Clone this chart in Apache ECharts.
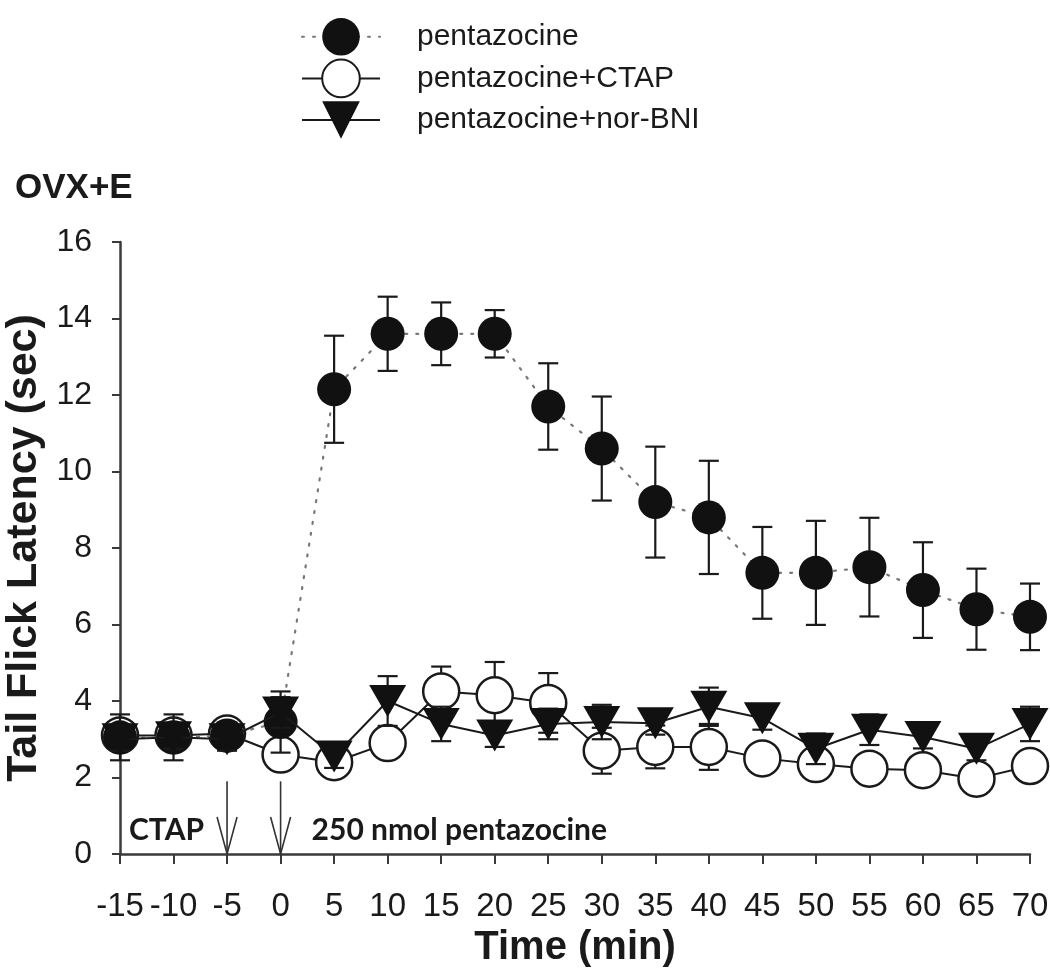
<!DOCTYPE html>
<html>
<head>
<meta charset="utf-8">
<script src="https://cdn.jsdelivr.net/npm/echarts@6/dist/echarts.min.js"></script>
<style>
html,body{margin:0;padding:0;background:#fff;}
#chart{width:1050px;height:975px;}
</style>
</head>
<body>
<div id="chart"></div>
<script>
// ---- data ----
const times = [-15, -10, -5, 0, 5, 10, 15, 20, 25, 30, 35, 40, 45, 50, 55, 60, 65, 70];
const pentMean = [3.05, 3.05, 3.1, 3.45, 12.15, 13.6, 13.6, 13.6, 11.7, 10.6, 9.2, 8.8, 7.35, 7.35, 7.5, 6.9, 6.4, 6.2];
const pentErr  = [0.6, 0.6, 0.3, 0.8, 1.4, 0.97, 0.82, 0.62, 1.13, 1.36, 1.45, 1.48, 1.2, 1.36, 1.29, 1.25, 1.06, 0.87];
const ctapMean = [3.1, 3.1, 3.15, 2.6, 2.4, 2.9, 4.25, 4.15, 3.95, 2.7, 2.8, 2.8, 2.5, 2.35, 2.23, 2.19, 1.97, 2.3];
const ctapErr  = [0.3, 0.3, 0.2, 0.3, 0.3, 0.35, 0.65, 0.87, 0.78, 0.6, 0.56, 0.6, 0.3, 0.3, 0.2, 0.3, 0.3, 0.3];
const norMean  = [3.0, 3.05, 3.0, 3.7, 2.55, 4.0, 3.4, 3.1, 3.4, 3.45, 3.42, 3.85, 3.55, 2.75, 3.25, 3.06, 2.75, 3.4];
const norErr   = [0.3, 0.3, 0.3, 0.4, 0.3, 0.65, 0.45, 0.3, 0.4, 0.45, 0.3, 0.5, 0.3, 0.4, 0.4, 0.3, 0.3, 0.45];
const seriesNames = ['pentazocine', 'pentazocine+CTAP', 'pentazocine+nor-BNI'];
const arrowTimes = [-5, 0];
const arrowTop = 1.9;
const arrowLabels = ['CTAP', '250 nmol pentazocine'];
const xTicks = {min: -15, max: 70, interval: 5};
const yTicks = {min: 0, max: 16, interval: 2};
const panelTitle = 'OVX+E';
const xTitle = 'Time (min)';
const yTitle = 'Tail Flick Latency (sec)';

// ---- helpers ----
const pairs = (ys) => times.map((t, i) => [t, ys[i]]);
const triples = (ys, es) => times.map((t, i) => [t, ys[i], es[i]]);
const INK = '#1a1a1a';
const AX = '#3a3a3a';
const SANS = '"Liberation Sans", Arial, sans-serif';
const tri = 'path://M0,0 L36,0 L18,31 Z';

function errRender(params, api) {
  const x = api.value(0), m = api.value(1), e = api.value(2);
  const hi = api.coord([x, m + e]);
  const lo = api.coord([x, m - e]);
  const cap = 10;
  const st = {stroke: INK, lineWidth: 2.2, fill: null};
  return {type: 'group', children: [
    {type: 'line', shape: {x1: hi[0], y1: hi[1], x2: lo[0], y2: lo[1]}, style: st},
    {type: 'line', shape: {x1: hi[0]-cap, y1: hi[1], x2: hi[0]+cap, y2: hi[1]}, style: st},
    {type: 'line', shape: {x1: lo[0]-cap, y1: lo[1], x2: lo[0]+cap, y2: lo[1]}, style: st}
  ]};
}

function arrowRender(params, api) {
  const x = api.value(0);
  const top = api.coord([x, arrowTop]);
  const bot = api.coord([x, 0]);
  const idx = params.dataIndex;
  const st = {stroke: '#333', lineWidth: 1.6, fill: null};
  const txt = arrowLabels[idx];
  const right = idx > 0;
  return {type: 'group', children: [
    {type: 'line', shape: {x1: top[0], y1: top[1], x2: bot[0], y2: bot[1]}, style: st},
    {type: 'polyline', shape: {points: [[bot[0]-10, bot[1]-37], [bot[0], bot[1]], [bot[0]+10, bot[1]-37]]}, style: st},
    {type: 'text', x: right ? bot[0] + 31 : bot[0] - 23, y: bot[1] - 24,
      style: {text: txt, fill: INK, font: 'bold 30px Lato, "Open Sans", sans-serif',
        align: right ? 'left' : 'right', verticalAlign: 'middle'}}
  ]};
}

const chart = echarts.init(document.getElementById('chart'), null, {renderer: 'canvas'});
chart.setOption({
  backgroundColor: '#fff',
  animation: false,
  title: {text: panelTitle, left: 10, top: 166,
    textStyle: {fontFamily: SANS, fontWeight: 'bold', fontSize: 35, color: INK}},
  legend: {
    data: seriesNames, orient: 'vertical', left: 296, top: 13,
    itemWidth: 78, itemHeight: 47, itemGap: 3,
    textStyle: {fontFamily: SANS, fontSize: 30, color: INK, padding: [0, 0, 0, 32]}
  },
  grid: {left: 120, right: 20, top: 242, bottom: 121, containLabel: false, outerBoundsMode: 'none'},
  xAxis: {
    type: 'value', min: xTicks.min, max: xTicks.max, interval: xTicks.interval,
    name: xTitle, nameLocation: 'middle', nameGap: 74,
    nameTextStyle: {fontFamily: SANS, fontWeight: 'bold', fontSize: 40, color: INK},
    axisLine: {onZero: false, lineStyle: {color: AX, width: 2.5}},
    axisTick: {show: true, inside: false, length: 10, lineStyle: {color: AX, width: 2}},
    axisLabel: {margin: 36, fontFamily: SANS, fontSize: 33, color: INK, showMinLabel: true, showMaxLabel: true, hideOverlap: false},
    splitLine: {show: false}
  },
  yAxis: {
    type: 'value', min: yTicks.min, max: yTicks.max, interval: yTicks.interval,
    name: yTitle, nameLocation: 'middle', nameGap: 67, nameRotate: 90,
    nameTextStyle: {fontFamily: SANS, fontWeight: 'bold', fontSize: 43, color: INK},
    axisLine: {show: true, onZero: false, lineStyle: {color: AX, width: 2.5}},
    axisTick: {show: true, inside: false, length: 8, lineStyle: {color: AX, width: 2}},
    axisLabel: {margin: 28, fontFamily: SANS, fontSize: 32, color: INK},
    splitLine: {show: false}
  },
  series: [
    {type: 'custom', name: 'errCTAP', renderItem: errRender, data: triples(ctapMean, ctapErr), z: 2},
    {type: 'line', name: seriesNames[1], data: pairs(ctapMean), symbol: 'circle', symbolSize: 36,
      showAllSymbol: true, lineStyle: {color: INK, width: 2}, itemStyle: {color: '#fff', borderColor: INK, borderWidth: 2.5}, z: 3},
    {type: 'custom', name: 'errPent', renderItem: errRender, data: triples(pentMean, pentErr), z: 4},
    {type: 'line', name: seriesNames[0], data: pairs(pentMean), symbol: 'circle', symbolSize: 34,
      showAllSymbol: true, lineStyle: {color: '#777', width: 2.2, type: [2, 9], cap: 'round'},
      itemStyle: {color: '#111', borderColor: '#111', borderWidth: 0}, z: 5},
    {type: 'custom', name: 'errNor', renderItem: errRender, data: triples(norMean, norErr), z: 6},
    {type: 'line', name: seriesNames[2], data: pairs(norMean), symbol: tri, symbolSize: [37, 32],
      showAllSymbol: true, lineStyle: {color: INK, width: 2}, itemStyle: {color: '#111', borderColor: '#111', borderWidth: 0}, z: 7},
    {type: 'custom', name: 'arrows', renderItem: arrowRender, data: arrowTimes.map(t => [t]), z: 8, silent: true}
  ]
});
</script>
</body>
</html>
